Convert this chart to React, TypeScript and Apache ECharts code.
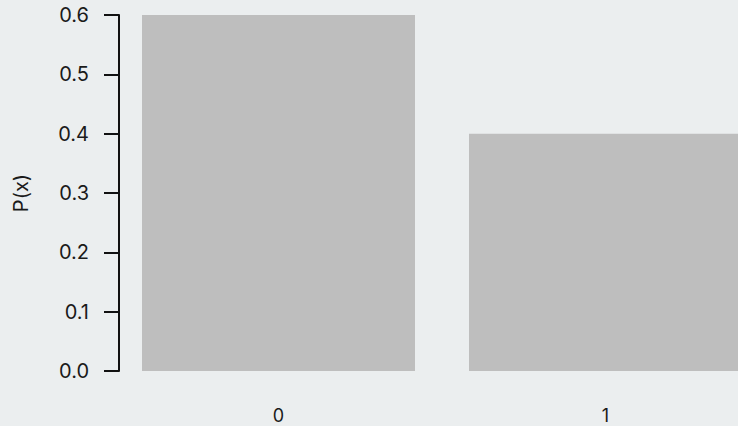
import React, { useEffect, useRef } from "react";
import * as echarts from "echarts";

const categories = ["0", "1"];
const probabilities = [0.6, 0.4];
const yTicks = [0, 0.1, 0.2, 0.3, 0.4, 0.5, 0.6];
const yAxisTitle = "P(x)";

export default function App() {
  const ref = useRef<HTMLDivElement>(null);
  useEffect(() => {
    if (!ref.current) return;
    const chart = echarts.init(ref.current, undefined, { renderer: "svg" });
    const font = "Inter";
    chart.setOption({
      animation: false,
      backgroundColor: "#EBEEEF",
      textStyle: { fontFamily: font },
      grid: {
        left: 115,
        top: 15,
        bottom: 55,
        width: 654,
        containLabel: false,
        outerBoundsMode: "none",
      },
      xAxis: {
        type: "category",
        data: categories,
        boundaryGap: true,
        axisLine: { show: false },
        axisTick: { show: false },
        axisLabel: {
          color: "#1a1a1a",
          fontSize: 18,
          lineHeight: 18,
          margin: 35,
          fontFamily: font,
        },
      },
      yAxis: {
        type: "value",
        min: yTicks[0],
        max: yTicks[yTicks.length - 1],
        interval: 0.1,
        offset: -4,
        splitLine: { show: false },
        axisLine: { show: true, lineStyle: { color: "#111", width: 2 } },
        axisTick: { show: true, length: 15, lineStyle: { color: "#111", width: 2 } },
        axisLabel: {
          color: "#1a1a1a",
          fontSize: 20,
          margin: 30,
          fontFamily: font,
          formatter: (v: number) => v.toFixed(1),
        },
        name: yAxisTitle,
        nameLocation: "middle",
        nameRotate: 90,
        nameGap: 88,
        nameTextStyle: { color: "#1a1a1a", fontSize: 20, fontFamily: font },
      },
      series: [
        {
          type: "bar",
          data: probabilities,
          barWidth: 273,
          itemStyle: { color: "#BEBEBE" },
        },
      ],
    });
    return () => chart.dispose();
  }, []);
  return (
    <div
      ref={ref}
      style={{ position: "fixed", left: 0, top: 0, width: 738, height: 426 }}
    />
  );
}
